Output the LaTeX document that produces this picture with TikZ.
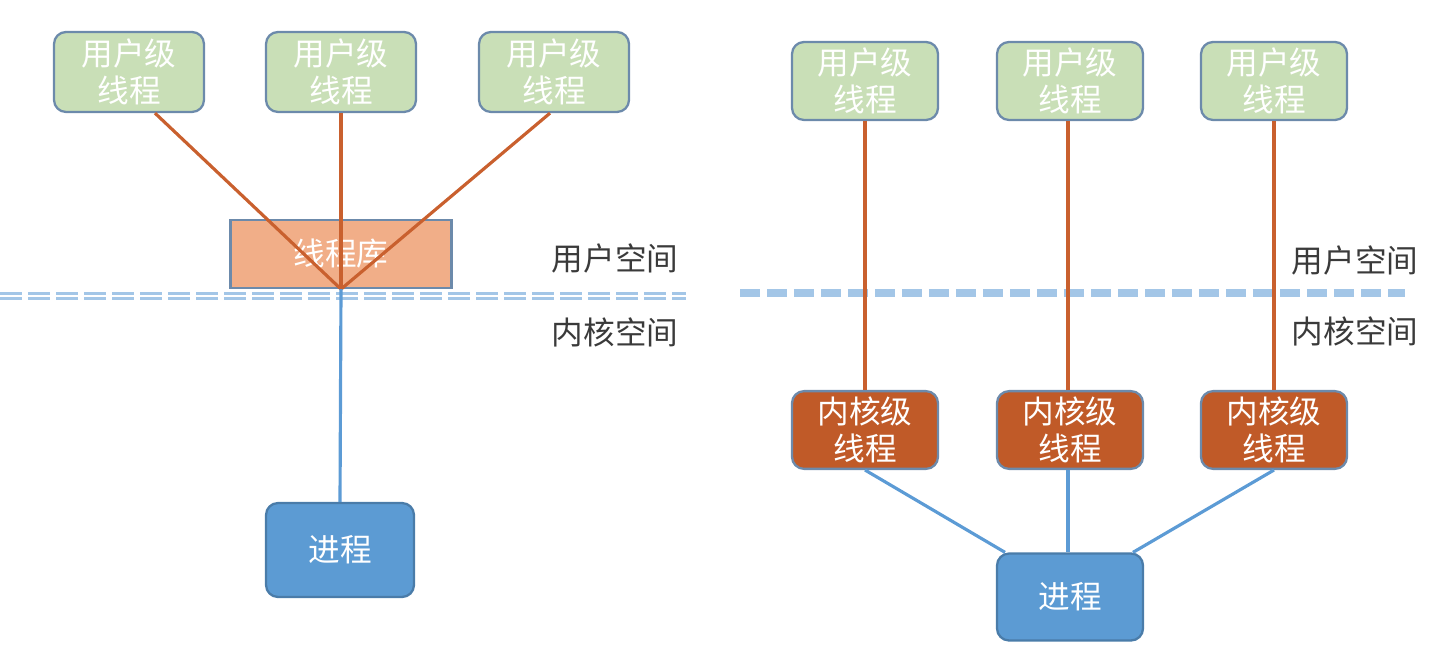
\documentclass[tikz,border=0pt]{standalone}
\usepackage{fontspec}
\setmainfont{Noto Sans CJK SC}
\usetikzlibrary{positioning}
\usepackage{xcolor}
\definecolor{userfill}{HTML}{C9DFB7}
\definecolor{libfill}{HTML}{F1AE88}
\definecolor{kernfill}{HTML}{C05A28}
\definecolor{procfill}{HTML}{5C9BD3}
\definecolor{boxline}{HTML}{6C8AAB}
\definecolor{orangeline}{HTML}{C9602E}
\definecolor{blueline}{HTML}{5C9BD5}
\definecolor{dashline}{HTML}{A3C6E7}
\definecolor{labeltext}{HTML}{3A3A3A}

\begin{document}
\begin{tikzpicture}[x=0.02cm, y=-0.02cm, >=stealth,
    font=\fontsize{18}{21}\selectfont,
    ubox/.style={draw=boxline, line width=1.3pt, fill=userfill, rounded corners=0.24cm,
        text=white, align=center, minimum width=3.0cm, minimum height=1.6cm},
    kbox/.style={draw=boxline, line width=1.3pt, fill=kernfill, rounded corners=0.24cm,
        text=white, align=center, minimum width=2.92cm, minimum height=1.52cm},
    pbox/.style={draw=procfill!80!black, line width=1.3pt, fill=procfill, rounded corners=0.24cm,
        text=white, minimum width=2.96cm},
    oline/.style={orangeline, line width=1.8pt},
    bline/.style={blueline, line width=1.8pt},
    space/.style={text=labeltext}]
        \useasboundingbox (0,0) rectangle (1450,658);

        % Left: user level threads on a thread library
        \node [ubox] (lu1) at (129,72) {用户级\\线程};
        \node [ubox] (lu2) at (341,72) {用户级\\线程};
        \node [ubox] (lu3) at (554,72) {用户级\\线程};
        \node [draw=boxline, line width=1.3pt, fill=libfill, text=white,
            minimum width=4.42cm, minimum height=1.36cm] (lib) at (341,254) {线程库};
        \node [pbox, minimum height=1.88cm] (lp) at (340,550) {进程};

        \node [space] (lus) at (615,258) {用户空间};
        \node [space] (lks) at (615,332) {内核空间};

        % Left boundary (double dashed)
        \coordinate (lda) at (0,296);
        \coordinate (ldb) at (686,296);
        \draw [dashline, line width=1.6pt, double=white, double distance=1.4pt,
            dash pattern=on 0.44cm off 0.12cm] (lda) -- (ldb);

        % Left connectors
        \draw [oline] ([xshift=0.52cm]lu1.south) -- (lib.south);
        \draw [oline] (lu2.south) -- (lib.south);
        \draw [oline] ([xshift=-0.08cm]lu3.south) -- (lib.south);
        \draw [bline] (lib.south) -- (lp.north);

        % Right: one kernel thread for each user thread
        \node [ubox, minimum width=2.92cm, minimum height=1.56cm] (ru1) at (865,81) {用户级\\线程};
        \node [ubox, minimum width=2.92cm, minimum height=1.56cm] (ru2) at (1070,81) {用户级\\线程};
        \node [ubox, minimum width=2.92cm, minimum height=1.56cm] (ru3) at (1274,81) {用户级\\线程};
        \node [kbox] (rk1) at (865,430) {内核级\\线程};
        \node [kbox] (rk2) at (1070,430) {内核级\\线程};
        \node [kbox] (rk3) at (1274,430) {内核级\\线程};
        \node [pbox, minimum width=2.92cm, minimum height=1.74cm] (rp) at (1070,597) {进程};

        \node [space] (rus) at (1355,260) {用户空间};
        \node [space] (rks) at (1355,331) {内核空间};

        % Right boundary (dashed)
        \coordinate (rda) at (740,293);
        \coordinate (rdb) at (1405,293);
        \draw [dashline, line width=4pt, dash pattern=on 0.4cm off 0.14cm] (rda) -- (rdb);

        % Right connectors
        \draw [oline] (ru1.south) -- (rk1.north);
        \draw [oline] ([xshift=-0.04cm]ru2.south) -- ([xshift=-0.04cm]rk2.north);
        \draw [oline] (ru3.south) -- (rk3.north);
        \draw [bline] (rk1.south) -- ([xshift=-1.3cm]rp.north);
        \draw [bline] ([xshift=-0.04cm]rk2.south) -- ([xshift=-0.04cm]rp.north);
        \draw [bline] (rk3.south) -- ([xshift=1.26cm]rp.north);
    \end{tikzpicture}
\end{document}
